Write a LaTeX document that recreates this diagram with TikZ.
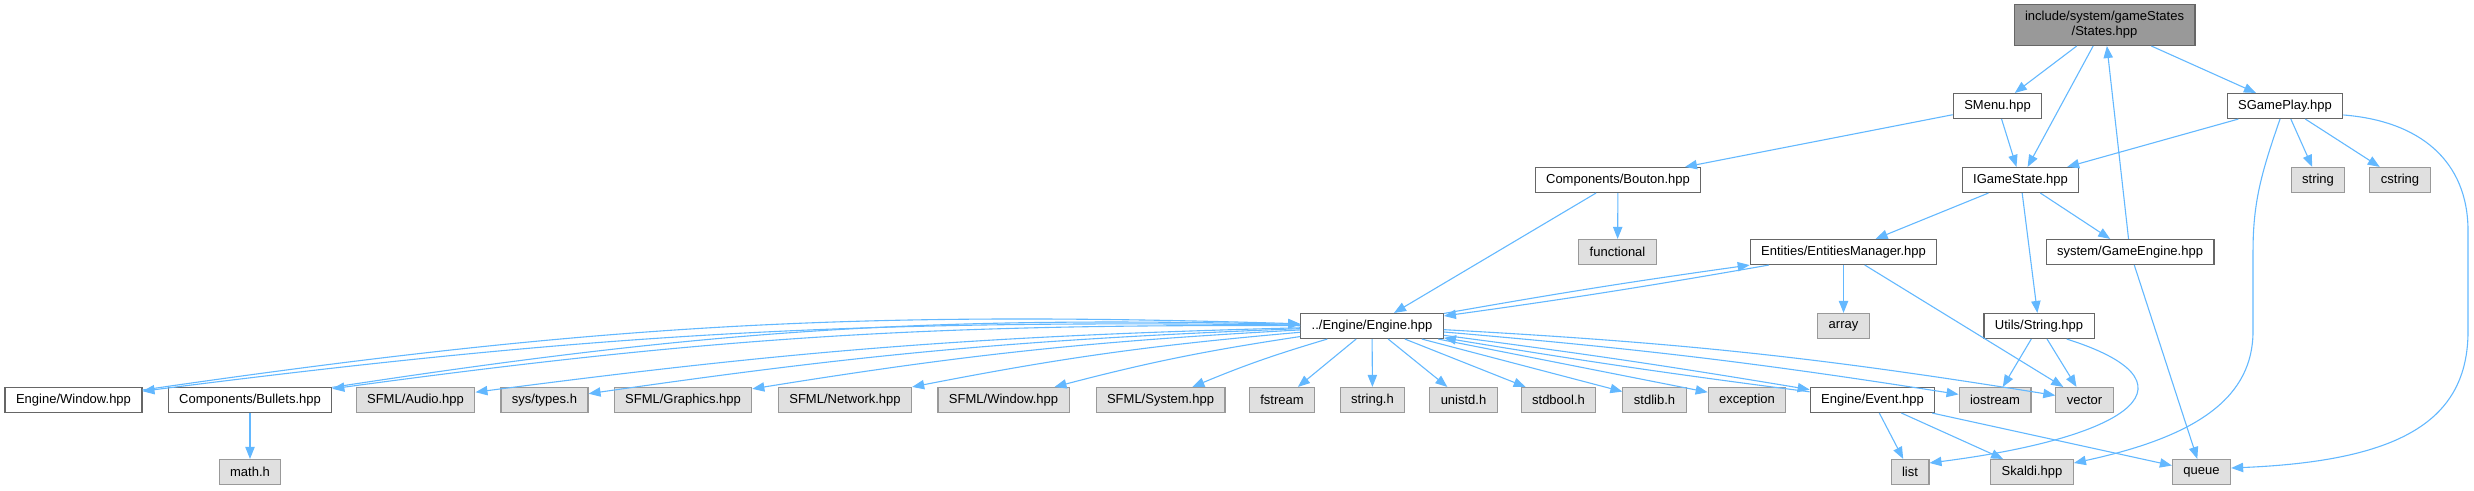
\documentclass[tikz,border=0pt]{standalone}
\usepackage{fontspec}
\setmainfont{Liberation Sans}
\usepackage{xcolor}
\usepackage{tikz}
\usetikzlibrary{arrows.meta}
\definecolor{depblue}{HTML}{63B8FF}

\begin{document}
\begin{tikzpicture}[x=0.3pt, y=0.3pt, every node/.style={font=\fontsize{3.9}{4.5}\selectfont, align=center, inner xsep=3.3pt, inner ysep=0pt, minimum height=7.5pt, line width=0.33pt},
    hdr/.style={draw=black!60, fill=white},
    syshdr/.style={draw=black!40, fill=black!12},
    roothdr/.style={draw=black!60, fill=black!40, minimum height=12.3pt},
    dep/.style={draw=depblue, line width=0.33pt, -{Stealth[inset=0pt, length=3.6pt, width=2.8pt]}}]
    \useasboundingbox (0,0) rectangle (2474,491);

    % top of the graph
    \node[roothdr] (states) at (2104.5,466) {include/system/gameStates\\/States.hpp};
    \node[hdr] (smenu) at (1997.5,385) {SMenu.hpp};
    \node[hdr] (sgameplay) at (2285,385) {SGamePlay.hpp};
    \node[hdr] (bouton) at (1618,311) {Components/Bouton.hpp};
    \node[hdr] (igamestate) at (2020.5,311) {IGameState.hpp};
    \node[syshdr] (string) at (2318,311) {string};
    \node[syshdr] (cstring) at (2400,311) {cstring};
    \node[syshdr] (functional) at (1617.5,239) {functional};
    \node[hdr] (entities) at (1843.5,239) {Entities/EntitiesManager.hpp};
    \node[hdr] (gameengine) at (2130,239) {system/GameEngine.hpp};
    \node[hdr] (engine) at (1372,165) {../Engine/Engine.hpp};
    \node[syshdr] (array) at (1843.5,165) {array};
    \node[hdr] (utilsstring) at (2039,165) {Utils/String.hpp};

    % row under Engine.hpp
    \node[hdr] (window) at (73.5,91) {Engine/Window.hpp};
    \node[hdr] (bullets) at (250,91) {Components/Bullets.hpp};
    \node[syshdr] (sfaudio) at (415.5,91) {SFML/Audio.hpp};
    \node[syshdr] (systypes) at (544.5,91) {sys/types.h};
    \node[syshdr] (sfgraphics) at (683,91) {SFML/Graphics.hpp};
    \node[syshdr] (sfnetwork) at (845,91) {SFML/Network.hpp};
    \node[syshdr] (sfwindow) at (1003.5,91) {SFML/Window.hpp};
    \node[syshdr] (sfsystem) at (1160.5,91) {SFML/System.hpp};
    \node[syshdr] (fstream) at (1282,91) {fstream};
    \node[syshdr] (stringh) at (1372.5,91) {string.h};
    \node[syshdr] (unistd) at (1463.5,91) {unistd.h};
    \node[syshdr] (stdbool) at (1558.5,91) {stdbool.h};
    \node[syshdr] (stdlib) at (1654.5,91) {stdlib.h};
    \node[syshdr] (exception) at (1747,91) {exception};
    \node[hdr] (event) at (1872.5,91) {Engine/Event.hpp};
    \node[syshdr] (iostream) at (1995,91) {iostream};
    \node[syshdr] (vector) at (2084.5,91) {vector};

    % bottom row
    \node[syshdr] (mathh) at (250,19) {math.h};
    \node[syshdr] (list) at (1910,19) {list};
    \node[syshdr] (skaldi) at (2032,19) {Skaldi.hpp};
    \node[syshdr] (queue) at (2201.5,19) {queue};

    % includes
    \draw[dep] (states) -- (smenu);
    \draw[dep] (states) -- (igamestate);
    \draw[dep] (states) -- (sgameplay);
    \draw[dep] (smenu) -- (bouton);
    \draw[dep] (smenu) -- (igamestate);
    \draw[dep] (sgameplay) -- (igamestate);
    \draw[dep] (sgameplay) -- (string);
    \draw[dep] (sgameplay) -- (cstring);
    \draw[dep] ([shift={(-5,0)}]sgameplay.south) .. controls (2262,320) and (2253,290) .. (2253,240) -- (2253,160) .. controls (2253,95) and (2200,55) .. ([shift={(0,9)}]skaldi.east);
    \draw[dep] ([shift={(0,-9)}]sgameplay.east) .. controls (2420,370) and (2468,330) .. (2468,260) -- (2468,160) .. controls (2468,70) and (2400,30) .. ([shift={(0,4)}]queue.east);
    \draw[dep] (bouton) -- (functional);
    \draw[dep] (bouton) -- (engine);
    \draw[dep] (igamestate) -- (entities);
    \draw[dep] (igamestate) -- (gameengine);
    \draw[dep] (igamestate) -- (utilsstring);
    \draw[dep] (gameengine) -- (states);
    \draw[dep] (gameengine) -- (queue);
    \draw[dep] (entities) to[bend left=1] (engine);
    \draw[dep] (engine) to[bend left=1] (entities);
    \draw[dep] (entities) -- (array);
    \draw[dep] (entities) -- (vector);
    \draw[dep] (utilsstring) -- (iostream);
    \draw[dep] (utilsstring) -- (vector);
    \draw[dep] ([shift={(-28,0)}]utilsstring.south east) .. controls (2200,110) and (2140,55) .. ([shift={(0,9)}]list.east);

    % Engine.hpp
    \draw[dep] (engine) to[bend right=4] (window);
    \draw[dep] (window) to[bend left=5] (engine);
    \draw[dep] (engine) to[bend right=4] (bullets);
    \draw[dep] (bullets) to[bend left=5] (engine);
    \draw[dep] (engine) to[bend right=3] (sfaudio);
    \draw[dep] (engine) to[bend right=3] (systypes);
    \draw[dep] (engine) to[bend right=3] (sfgraphics);
    \draw[dep] (engine) to[bend right=3] (sfnetwork);
    \draw[dep] (engine) to[bend right=3] (sfwindow);
    \draw[dep] (engine) to[bend right=3] (sfsystem);
    \draw[dep] (engine) -- (fstream);
    \draw[dep] (engine) -- (stringh);
    \draw[dep] (engine) -- (unistd);
    \draw[dep] (engine) -- (stdbool);
    \draw[dep] (engine) -- (stdlib);
    \draw[dep] (engine) -- (exception);
    \draw[dep] (engine) to[bend left=1] (event);
    \draw[dep] (event) to[bend left=1] (engine);
    \draw[dep] (engine) to[bend left=2] (iostream);
    \draw[dep] (engine) to[bend left=3] (vector);
    \draw[dep] (bullets) -- (mathh);
    \draw[dep] (event) -- (list);
    \draw[dep] (event) -- (skaldi);
    \draw[dep] (event) -- (queue);
\end{tikzpicture}
\end{document}
